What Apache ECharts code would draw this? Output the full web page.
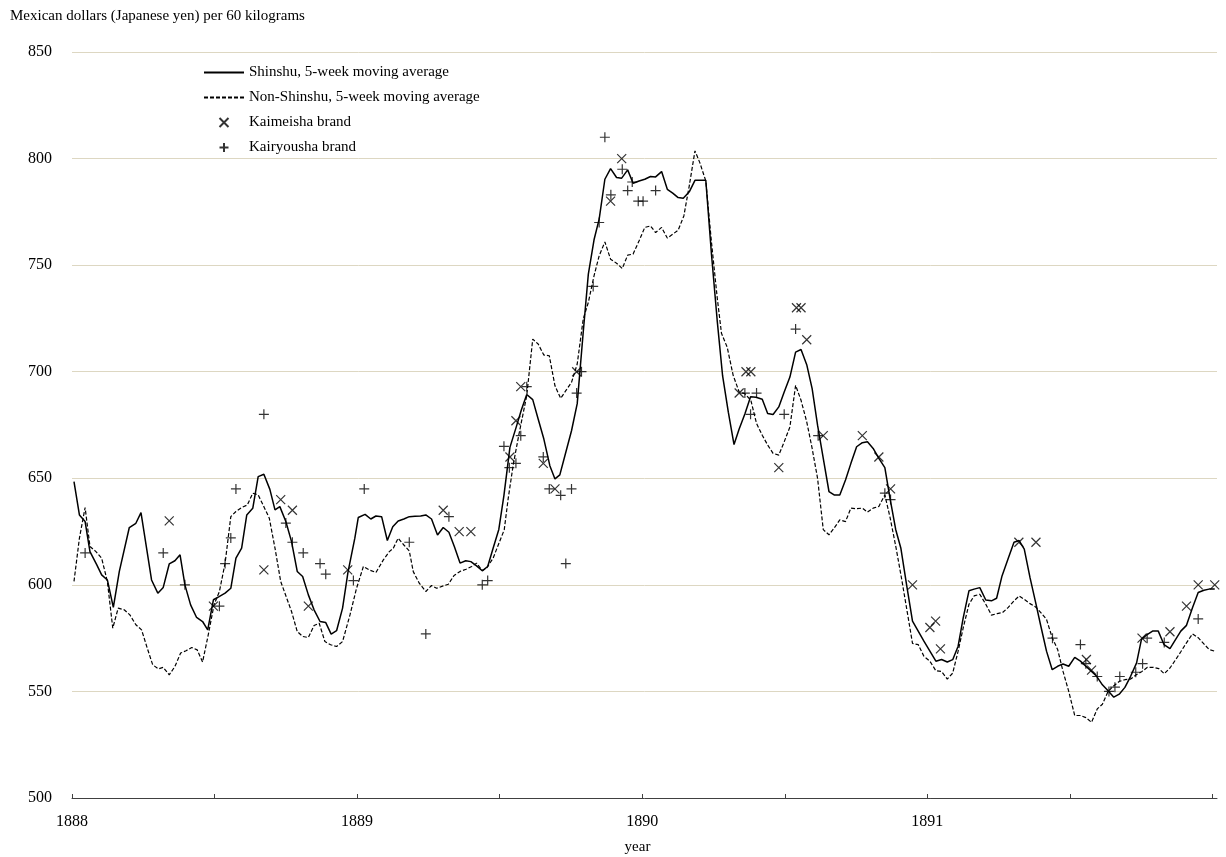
<!DOCTYPE html>
<html>
<head>
<meta charset="utf-8">
<title>Raw silk prices 1888-1891</title>
<script src="https://cdn.jsdelivr.net/npm/echarts@6/dist/echarts.min.js"></script>
<style>
  html, body { margin: 0; padding: 0; background: #fff; }
  #main { width: 1226px; height: 857px; }
</style>
</head>
<body>
<div id="main"></div>
<script>
// weekly prices, [year, Mexican dollars per 60 kg]
const shinshuMA = [
  [1888.007, 648.4], [1888.026, 632.8], [1888.046, 629.7], [1888.063, 615.6], [1888.087, 609.4],
  [1888.104, 604.7], [1888.124, 602.3], [1888.145, 589.4], [1888.166, 606.3], [1888.201, 626.9],
  [1888.224, 628.9], [1888.242, 633.9], [1888.279, 602.3], [1888.301, 596.1], [1888.320, 598.8],
  [1888.341, 609.8], [1888.361, 611.3], [1888.379, 614.1], [1888.396, 600.0], [1888.416, 590.6],
  [1888.437, 584.7], [1888.458, 582.8], [1888.476, 578.9], [1888.496, 593.0], [1888.516, 594.5],
  [1888.537, 596.1], [1888.557, 598.4], [1888.575, 612.5], [1888.595, 617.2], [1888.613, 632.8],
  [1888.634, 635.9], [1888.653, 650.8], [1888.673, 651.9], [1888.694, 644.8], [1888.712, 635.2],
  [1888.729, 636.7], [1888.750, 629.7], [1888.770, 620.3], [1888.790, 606.3], [1888.809, 603.9],
  [1888.829, 595.3], [1888.849, 588.3], [1888.870, 582.8], [1888.890, 582.3], [1888.909, 576.9],
  [1888.928, 578.5], [1888.949, 589.1], [1888.968, 606.0], [1888.992, 621.9], [1889.004, 631.6],
  [1889.028, 633.1], [1889.048, 630.9], [1889.066, 632.3], [1889.086, 632.0], [1889.106, 620.8],
  [1889.125, 627.3], [1889.144, 630.0], [1889.164, 630.9], [1889.183, 632.0], [1889.203, 632.2],
  [1889.223, 632.3], [1889.241, 632.8], [1889.261, 630.9], [1889.282, 623.4], [1889.302, 626.9],
  [1889.322, 624.7], [1889.341, 618.0], [1889.361, 610.2], [1889.381, 611.3], [1889.399, 610.9],
  [1889.419, 608.9], [1889.439, 606.6], [1889.458, 608.6], [1889.477, 617.2], [1889.497, 626.0],
  [1889.515, 642.0], [1889.536, 664.5], [1889.558, 674.0], [1889.576, 682.0], [1889.595, 689.3],
  [1889.616, 686.9], [1889.635, 677.8], [1889.655, 668.4], [1889.676, 655.9], [1889.694, 649.7],
  [1889.711, 651.6], [1889.732, 662.2], [1889.752, 672.3], [1889.772, 685.0], [1889.793, 718.4],
  [1889.811, 745.8], [1889.831, 761.9], [1889.849, 771.6], [1889.869, 790.3], [1889.889, 795.3],
  [1889.910, 791.1], [1889.928, 790.8], [1889.949, 794.7], [1889.968, 788.4], [1889.989, 789.5],
  [1890.009, 790.3], [1890.029, 791.6], [1890.047, 791.4], [1890.068, 793.9], [1890.088, 785.6],
  [1890.107, 783.8], [1890.126, 781.7], [1890.144, 781.4], [1890.165, 784.4], [1890.185, 789.8],
  [1890.205, 789.8], [1890.223, 789.8], [1890.243, 755.0], [1890.263, 724.0], [1890.282, 698.0],
  [1890.302, 681.0], [1890.322, 665.8], [1890.340, 673.1], [1890.360, 680.2], [1890.380, 688.3],
  [1890.399, 688.0], [1890.421, 687.1], [1890.440, 680.4], [1890.459, 679.9], [1890.479, 683.5],
  [1890.498, 690.5], [1890.518, 697.5], [1890.538, 709.2], [1890.557, 710.4], [1890.577, 703.3],
  [1890.596, 692.1], [1890.615, 674.9], [1890.635, 659.3], [1890.655, 643.8], [1890.673, 642.2],
  [1890.693, 642.2], [1890.713, 649.2], [1890.732, 657.0], [1890.752, 664.8], [1890.772, 666.7],
  [1890.790, 667.1], [1890.810, 664.0], [1890.830, 659.3], [1890.851, 655.0], [1890.869, 640.7],
  [1890.889, 626.0], [1890.907, 617.3], [1890.927, 600.2], [1890.948, 583.0], [1890.968, 578.3],
  [1890.988, 573.6], [1891.009, 568.9], [1891.030, 564.2], [1891.050, 565.0], [1891.070, 563.8],
  [1891.089, 564.9], [1891.108, 571.2], [1891.126, 584.6], [1891.146, 597.2], [1891.164, 598.0],
  [1891.184, 598.7], [1891.205, 592.9], [1891.225, 592.5], [1891.243, 593.7], [1891.262, 604.2],
  [1891.283, 612.1], [1891.304, 620.0], [1891.322, 620.8], [1891.340, 616.8], [1891.360, 603.5],
  [1891.380, 591.7], [1891.398, 580.7], [1891.418, 568.9], [1891.438, 560.2], [1891.457, 561.8],
  [1891.476, 562.9], [1891.496, 561.8], [1891.517, 566.0], [1891.537, 564.2], [1891.556, 561.8],
  [1891.576, 559.4], [1891.594, 557.1], [1891.614, 553.1], [1891.634, 550.3], [1891.654, 547.3],
  [1891.673, 548.7], [1891.693, 551.9], [1891.713, 557.1], [1891.734, 563.4], [1891.751, 574.4],
  [1891.771, 576.7], [1891.790, 578.3], [1891.810, 578.3], [1891.830, 572.0], [1891.851, 570.1],
  [1891.871, 574.4], [1891.889, 578.3], [1891.909, 581.0], [1891.930, 589.3], [1891.950, 596.4],
  [1891.970, 597.5], [1891.988, 598.0], [1892.008, 598.0]
];

const nonShinshuMA = [
  [1888.007, 601.6], [1888.026, 621.9], [1888.046, 636.3], [1888.063, 618.0], [1888.084, 615.6],
  [1888.104, 612.5], [1888.124, 601.6], [1888.143, 579.7], [1888.162, 589.1], [1888.183, 588.3],
  [1888.203, 585.9], [1888.224, 581.3], [1888.244, 578.9], [1888.264, 570.3], [1888.283, 562.5],
  [1888.303, 560.6], [1888.320, 561.3], [1888.341, 557.8], [1888.361, 561.7], [1888.381, 568.0],
  [1888.400, 569.1], [1888.420, 570.6], [1888.439, 569.5], [1888.458, 563.8], [1888.478, 576.6],
  [1888.498, 590.6], [1888.517, 596.9], [1888.537, 610.2], [1888.557, 632.0], [1888.575, 634.4],
  [1888.595, 636.3], [1888.615, 637.5], [1888.634, 643.0], [1888.653, 642.2], [1888.673, 636.7],
  [1888.692, 631.3], [1888.712, 617.2], [1888.732, 601.6], [1888.753, 593.8], [1888.770, 587.5],
  [1888.790, 578.1], [1888.809, 575.8], [1888.829, 575.3], [1888.849, 580.9], [1888.867, 582.0],
  [1888.887, 573.4], [1888.907, 571.9], [1888.928, 571.1], [1888.949, 573.4], [1888.975, 585.9],
  [1888.998, 598.4], [1889.022, 608.6], [1889.043, 607.0], [1889.066, 605.8], [1889.092, 611.7],
  [1889.113, 615.6], [1889.127, 617.2], [1889.144, 621.9], [1889.164, 618.7], [1889.183, 615.9],
  [1889.197, 606.2], [1889.218, 600.8], [1889.241, 596.9], [1889.261, 599.7], [1889.279, 598.4],
  [1889.302, 599.5], [1889.320, 600.3], [1889.340, 604.4], [1889.361, 606.3], [1889.382, 607.3],
  [1889.402, 608.6], [1889.419, 610.2], [1889.439, 606.7], [1889.454, 607.8], [1889.477, 612.5],
  [1889.495, 618.7], [1889.516, 625.8], [1889.530, 640.6], [1889.548, 656.7], [1889.569, 671.6],
  [1889.595, 688.8], [1889.616, 715.3], [1889.635, 713.0], [1889.655, 707.8], [1889.674, 707.5],
  [1889.694, 693.4], [1889.714, 687.5], [1889.732, 691.1], [1889.752, 695.0], [1889.772, 703.6],
  [1889.793, 724.7], [1889.811, 732.5], [1889.831, 745.0], [1889.849, 754.4], [1889.869, 760.9],
  [1889.889, 752.8], [1889.910, 750.9], [1889.930, 748.4], [1889.949, 754.7], [1889.968, 755.2],
  [1889.989, 761.4], [1890.009, 767.7], [1890.029, 768.4], [1890.047, 765.3], [1890.068, 767.7],
  [1890.088, 762.7], [1890.107, 764.5], [1890.126, 766.4], [1890.146, 773.1], [1890.165, 787.2],
  [1890.185, 803.6], [1890.202, 798.1], [1890.223, 789.5], [1890.243, 760.6], [1890.263, 734.8],
  [1890.278, 718.0], [1890.298, 711.5], [1890.319, 698.3], [1890.340, 690.5], [1890.360, 689.7],
  [1890.381, 686.6], [1890.401, 675.7], [1890.421, 670.2], [1890.440, 665.6], [1890.459, 661.7],
  [1890.479, 660.9], [1890.498, 667.1], [1890.518, 674.1], [1890.538, 693.6], [1890.557, 686.6],
  [1890.577, 676.5], [1890.596, 664.0], [1890.615, 650.0], [1890.635, 625.9], [1890.655, 623.5],
  [1890.673, 626.6], [1890.693, 630.5], [1890.713, 629.7], [1890.732, 636.0], [1890.752, 635.7],
  [1890.772, 636.0], [1890.790, 634.1], [1890.810, 636.0], [1890.830, 636.8], [1890.851, 642.2],
  [1890.869, 631.8], [1890.890, 617.6], [1890.910, 602.7], [1890.929, 587.7], [1890.948, 572.5],
  [1890.968, 572.0], [1890.988, 566.5], [1891.009, 564.2], [1891.030, 559.7], [1891.050, 559.4],
  [1891.070, 555.8], [1891.089, 558.6], [1891.108, 568.9], [1891.126, 579.9], [1891.146, 590.9],
  [1891.164, 594.8], [1891.184, 595.6], [1891.205, 590.9], [1891.225, 585.8], [1891.245, 586.5],
  [1891.264, 587.0], [1891.283, 589.3], [1891.304, 592.5], [1891.322, 594.8], [1891.340, 593.2],
  [1891.360, 591.2], [1891.380, 589.6], [1891.398, 587.0], [1891.418, 583.8], [1891.438, 575.2],
  [1891.457, 569.7], [1891.476, 559.4], [1891.496, 550.0], [1891.517, 538.7], [1891.537, 538.7],
  [1891.556, 537.7], [1891.576, 535.5], [1891.596, 541.8], [1891.614, 544.0], [1891.634, 550.0],
  [1891.652, 552.4], [1891.673, 554.7], [1891.693, 555.5], [1891.713, 555.8], [1891.734, 557.9],
  [1891.753, 559.4], [1891.772, 561.3], [1891.792, 561.3], [1891.812, 560.7], [1891.831, 558.3],
  [1891.851, 561.0], [1891.871, 564.9], [1891.889, 568.6], [1891.909, 572.8], [1891.930, 577.0],
  [1891.950, 575.2], [1891.970, 572.3], [1891.988, 569.7], [1892.008, 568.9]
];

const kaimeisha = [
  [1888.341, 630], [1888.496, 590], [1888.673, 607], [1888.732, 640], [1888.773, 635],
  [1888.829, 590], [1888.967, 607], [1889.302, 635], [1889.358, 625], [1889.399, 625],
  [1889.536, 660], [1889.557, 677], [1889.574, 693], [1889.653, 657], [1889.694, 645],
  [1889.770, 700], [1889.889, 780], [1889.928, 800], [1890.340, 690], [1890.364, 700],
  [1890.381, 700], [1890.479, 655], [1890.541, 730], [1890.557, 730], [1890.577, 715],
  [1890.635, 670], [1890.772, 670], [1890.830, 660], [1890.871, 645], [1890.948, 600],
  [1891.009, 580], [1891.029, 583], [1891.046, 570], [1891.321, 620], [1891.381, 620],
  [1891.558, 565], [1891.576, 560], [1891.753, 575], [1891.851, 578], [1891.909, 590],
  [1891.950, 600], [1892.008, 600]
];

const kairyousha = [
  [1888.046, 615], [1888.320, 615], [1888.396, 600], [1888.517, 590], [1888.537, 610],
  [1888.557, 622], [1888.575, 645], [1888.673, 680], [1888.750, 629], [1888.773, 620],
  [1888.811, 615], [1888.870, 610], [1888.890, 605], [1888.987, 602], [1889.025, 645],
  [1889.183, 620], [1889.241, 577], [1889.322, 632], [1889.439, 600], [1889.458, 602],
  [1889.515, 665], [1889.534, 655], [1889.557, 657], [1889.574, 670], [1889.595, 693],
  [1889.653, 660], [1889.674, 645], [1889.714, 642], [1889.732, 610], [1889.752, 645],
  [1889.770, 690], [1889.787, 700], [1889.828, 740], [1889.849, 770], [1889.869, 810],
  [1889.890, 783], [1889.930, 795], [1889.949, 785], [1889.965, 789], [1889.986, 780],
  [1890.003, 780], [1890.047, 785], [1890.360, 690], [1890.380, 680], [1890.401, 690],
  [1890.498, 680], [1890.538, 720], [1890.617, 670], [1890.851, 643], [1890.871, 640],
  [1891.439, 575], [1891.537, 572], [1891.556, 563], [1891.596, 557], [1891.637, 550],
  [1891.658, 552], [1891.675, 557], [1891.731, 559], [1891.755, 563], [1891.771, 575],
  [1891.831, 573], [1891.950, 584]
];

const yearLabels = [1888, 1889, 1890, 1891];
const yearTicks = [1888, 1888.5, 1889, 1889.5, 1890, 1890.5, 1891, 1891.5, 1892];

const FONT = '"Liberation Serif", "Times New Roman", serif';
const CROSS = 'path://M0,0L10,10M10,0L0,10';
const PLUS = 'path://M5,0L5,10M0,5L10,5';

const chart = echarts.init(document.getElementById('main'));

const option = {
  animation: false,
  backgroundColor: '#fff',
  textStyle: { fontFamily: FONT, color: '#000' },
  title: {
    text: 'Mexican dollars (Japanese yen) per 60 kilograms',
    left: 10,
    top: 9,
    padding: 0,
    textStyle: { fontFamily: FONT, fontSize: 15, fontWeight: 'normal', color: '#000' }
  },
  legend: {
    orient: 'vertical',
    left: 203,
    top: 65,
    padding: 0,
    itemWidth: 40,
    itemHeight: 9,
    itemGap: 10,
    textStyle: { fontFamily: FONT, fontSize: 15, color: '#000', lineHeight: 15 },
    data: [
      // hide the dot that the line icon gets in the middle
      { name: 'Shinshu, 5-week moving average', itemStyle: { opacity: 0 } },
      { name: 'Non-Shinshu, 5-week moving average', itemStyle: { opacity: 0 } },
      { name: 'Kaimeisha brand' },
      { name: 'Kairyousha brand' }
    ]
  },
  grid: { left: 72, right: 9, top: 52, bottom: 59, containLabel: false, outerBoundsMode: 'none' },
  xAxis: {
    type: 'value',
    min: 1888,
    max: 1892.016,
    name: 'year',
    nameLocation: 'middle',
    nameGap: 42,
    nameTextStyle: { fontFamily: FONT, fontSize: 15, color: '#000', padding: [0, 14, 0, 0] },
    axisLine: { show: true, lineStyle: { color: '#404040', width: 1 } },
    axisTick: { show: true, inside: true, length: 4, customValues: yearTicks,
                lineStyle: { color: '#404040' } },
    axisLabel: { customValues: yearLabels, margin: 16, fontFamily: FONT, fontSize: 16,
                 color: '#000', formatter: v => String(Math.round(v)) },
    splitLine: { show: false }
  },
  yAxis: {
    type: 'value',
    min: 500,
    max: 850,
    interval: 50,
    axisLine: { show: false },
    axisTick: { show: false },
    axisLabel: { margin: 20, fontFamily: FONT, fontSize: 16, color: '#000' },
    splitLine: { lineStyle: { color: '#ddd7c2', width: 1 } }
  },
  series: [
    {
      name: 'Shinshu, 5-week moving average',
      type: 'line',
      data: shinshuMA,
      symbol: 'none',
      lineStyle: { color: '#000', width: 1.5 },
      itemStyle: { color: '#000' },
      z: 3
    },
    {
      name: 'Non-Shinshu, 5-week moving average',
      type: 'line',
      data: nonShinshuMA,
      symbol: 'none',
      lineStyle: { color: '#000', width: 1.2, type: [4, 2] },
      itemStyle: { color: '#000' },
      z: 2
    },
    {
      name: 'Kaimeisha brand',
      type: 'scatter',
      data: kaimeisha,
      symbol: CROSS,
      symbolSize: 9,
      itemStyle: { color: '#000', borderColor: '#000', borderWidth: 1.2 },
      z: 4
    },
    {
      name: 'Kairyousha brand',
      type: 'scatter',
      data: kairyousha,
      symbol: PLUS,
      symbolSize: 10,
      itemStyle: { color: '#000', borderColor: '#000', borderWidth: 1.2 },
      z: 4
    }
  ]
};

chart.setOption(option);
</script>
</body>
</html>
